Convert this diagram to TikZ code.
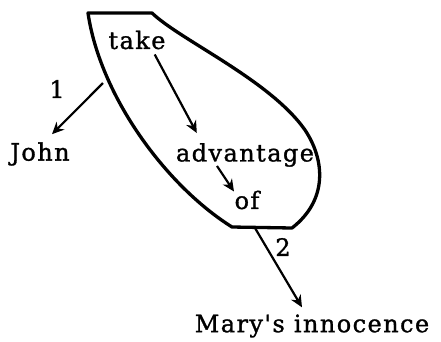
\documentclass[tikz,border=0pt]{standalone}
\usepackage{fontspec}
\newfontfamily\wordfont[LetterSpace=6, FakeBold=1.2]{DejaVu Serif}
\usetikzlibrary{arrows.meta, calc}
\tikzset{
  word/.style  = {font=\wordfont\fontsize{24}{27}\selectfont, inner sep=1pt},
  num/.style   = {font=\wordfont\fontsize{24}{27}\selectfont, inner sep=1pt},
  blob/.style  = {line width=3.3pt, line join=round},
  arr/.style   = {-{Stealth[length=12pt, width=11pt]}, line width=2.2pt},
}
\begin{document}
\begin{tikzpicture}[x=1pt, y=-1pt]
  \useasboundingbox (0,0) rectangle (441,341);

  % the take-advantage-of unit
  \draw[blob] (88,13) -- (152,13)
    .. controls (180,40) and (270,80) .. (305,130)
    .. controls (325,160) and (328,200) .. (292,228)
    -- (232,227)
    .. controls (165,185) and (100,95) .. cycle;

  \node[word] (take) at (137,40)  {take};
  \node[word] (adv)  at (245,155) {advantage};
  \node[word] (of)   at (247,200) {of};
  \node[word] (john) at (40,154)  {John};
  \node[word] (mary) at (312,326) {Mary's innocence};
  \node[num]  (one)  at (57,89)   {1};
  \node[num]  (two)  at (283,247) {2};

  \coordinate (p1) at (103,83);
  \coordinate (p2) at (255,228);

  \draw[arr] ([shift={(-12,4)}]take.south east) -- ([shift={(22,-9)}]adv.north west);
  \draw[arr] (p1) -- ([shift={(12,-7)}]john.north);
  \draw[arr] ([shift={(-28,-2)}]adv.south) -- ([shift={(-13,2)}]of.north);
  \draw[arr] (p2) -- ([shift={(-10,-6)}]mary.north);
\end{tikzpicture}
\end{document}
